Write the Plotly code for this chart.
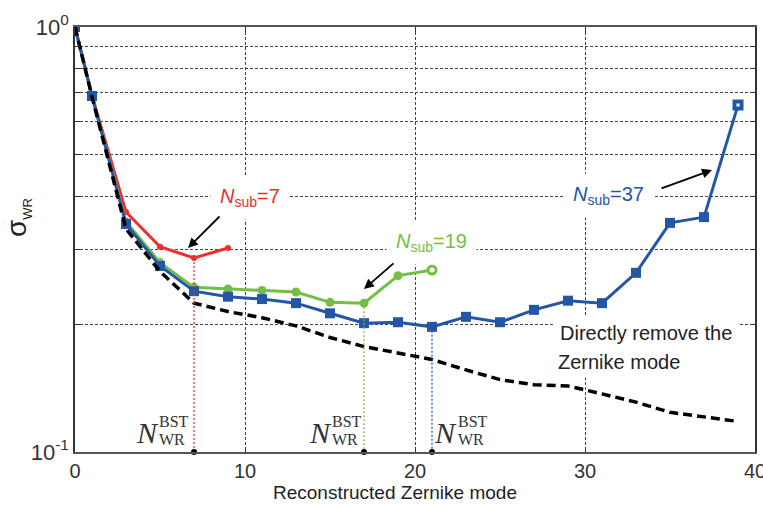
import plotly.graph_objects as go
import numpy as np

# ---------------- data ----------------
x_blue = [0, 1, 3, 5, 7, 9, 11, 13, 15, 17, 19, 21, 23, 25, 27, 29, 31, 33, 35, 37, 39]
y_blue = [1.0, 0.688, 0.344, 0.274, 0.239, 0.232, 0.229, 0.224, 0.212, 0.201, 0.202,
          0.197, 0.208, 0.202, 0.216, 0.227, 0.224, 0.264, 0.346, 0.357, 0.655]

x_green = [0, 1, 3, 5, 7, 9, 11, 13, 15, 17, 19, 21]
y_green = [1.0, 0.69, 0.348, 0.279, 0.244, 0.242, 0.240, 0.238, 0.225, 0.224, 0.260, 0.268]

x_red = [0, 1, 3, 5, 7, 9]
y_red = [1.0, 0.69, 0.367, 0.304, 0.286, 0.302]

x_direct = [0, 1, 3, 5, 7, 9, 11, 13, 15, 17, 19, 21, 23, 25, 27, 29, 31, 33, 35, 37, 39]
y_direct = [1.0, 0.685, 0.335, 0.266, 0.224, 0.214, 0.207, 0.198, 0.186, 0.177, 0.171,
            0.165, 0.156, 0.148, 0.144, 0.143, 0.137, 0.131, 0.124, 0.121, 0.118]

x_ticks = [0, 10, 20, 30, 40]
y_grid = [0.1, 0.2, 0.3, 0.4, 0.5, 0.6, 0.7, 0.8, 0.9, 1.0]
y_ticktext = ["10<sup>-1</sup>", "", "", "", "", "", "", "", "", "10<sup>0</sup>"]

sub_labels = ["7", "19", "37"]

# ---------------- styles ----------------
RED = "#ee2d2d"
GREEN = "#72bf44"
BLUE = "#2456a6"
FONT = "Liberation Sans"
SERIF = "Liberation Serif"

fig = go.Figure()

fig.add_trace(go.Scatter(x=x_red, y=y_red, mode="lines+markers",
                         line=dict(color=RED, width=3),
                         marker=dict(symbol="circle", size=6, color=RED)))
fig.add_trace(go.Scatter(x=x_green[:-1], y=y_green[:-1], mode="lines+markers",
                         line=dict(color=GREEN, width=3),
                         marker=dict(symbol="circle", size=9, color=GREEN)))
fig.add_trace(go.Scatter(x=x_green[-2:], y=y_green[-2:], mode="lines",
                         line=dict(color=GREEN, width=3)))
fig.add_trace(go.Scatter(x=x_green[-1:], y=y_green[-1:], mode="markers",
                         marker=dict(symbol="circle", size=8, color="white",
                                     line=dict(color=GREEN, width=3))))
fig.add_trace(go.Scatter(x=x_blue[:-1], y=y_blue[:-1], mode="lines+markers",
                         line=dict(color=BLUE, width=3),
                         marker=dict(symbol="square", size=10, color=BLUE)))
fig.add_trace(go.Scatter(x=x_blue[-2:], y=y_blue[-2:], mode="lines",
                         line=dict(color=BLUE, width=3)))
fig.add_trace(go.Scatter(x=x_blue[-1:], y=y_blue[-1:], mode="markers",
                         marker=dict(symbol="square", size=7, color="white",
                                     line=dict(color=BLUE, width=4))))
fig.add_trace(go.Scatter(x=x_direct, y=y_direct, mode="lines",
                         line=dict(color="black", width=3.5, dash="9px,5px")))

# drop lines at the best (minimum) mode of each series
for xs, ys, col in [(x_red, y_red, RED), (x_green, y_green, GREEN), (x_blue, y_blue, BLUE)]:
    i = int(np.argmin(ys))
    fig.add_trace(go.Scatter(x=[xs[i], xs[i]], y=[ys[i], y_grid[0]], mode="lines",
                             line=dict(color=col, width=1.3, dash="2px,2px")))
    fig.add_trace(go.Scatter(x=[xs[i]], y=[y_grid[0]], mode="markers", cliponaxis=False,
                             marker=dict(symbol="circle", size=6, color="black")))

# ---------------- layout helpers (screen pixel -> paper) ----------------
L, R, T, B = 75, 755, 27, 452
W, H = 763, 505


def P(px, py):
    return dict(x=(px - L) / (R - L), y=(B - py) / (B - T), xref="paper", yref="paper")


ann = []
# N_sub labels
for (px, py), col, lab in [((250, 197), RED, sub_labels[0]),
                           ((431, 242), GREEN, sub_labels[1]),
                           ((608, 195), BLUE, sub_labels[2])]:
    ann.append(dict(**P(px, py), text="<i>N</i><sub>sub</sub>=" + lab, showarrow=False,
                    font=dict(family=FONT, size=20, color=col), bgcolor="white",
                    borderpad=9, xanchor="center", yanchor="middle"))
# arrows
for (hx, hy), (ax, ay) in [((188, 248), (33, -33)), ((364, 289), (31, -27)), ((712, 170), (-52, 19))]:
    ann.append(dict(**P(hx, hy), text="", showarrow=True, ax=ax, ay=ay,
                    arrowhead=2, arrowsize=1.1, arrowwidth=1.8, arrowcolor="black"))
# direct-removal text
ann.append(dict(**P(553, 333), text="Directly remove the", showarrow=False, xanchor="left",
                yanchor="middle", font=dict(family=FONT, size=20, color="#222"),
                bgcolor="white", borderpad=6))
ann.append(dict(**P(553, 362), text="Zernike mode", showarrow=False, xanchor="left",
                yanchor="middle", font=dict(family=FONT, size=20, color="#222"),
                bgcolor="white", borderpad=4))
# N_WR^BST labels
for nx in [147, 320, 446]:
    ann.append(dict(**P(nx, 432), text="<i>N</i>", showarrow=False, xanchor="center",
                    yanchor="middle", font=dict(family=SERIF, size=30, color="#333")))
    ann.append(dict(**P(nx + 10, 421), text="BST", showarrow=False, xanchor="left",
                    yanchor="middle", font=dict(family=SERIF, size=16, color="#333")))
    ann.append(dict(**P(nx + 10, 439), text="WR", showarrow=False, xanchor="left",
                    yanchor="middle", font=dict(family=SERIF, size=16, color="#333")))
# axis titles
ann.append(dict(**P(395, 492), text="Reconstructed Zernike mode", showarrow=False,
                xanchor="center", yanchor="middle", font=dict(family=FONT, size=19, color="#222")))
ann.append(dict(**P(18, 218), text="σ<sub><span style='font-size:13px'>WR</span></sub>",
                showarrow=False, textangle=-90, xanchor="center", yanchor="middle",
                font=dict(family=FONT, size=28, color="#222")))

fig.update_layout(
    width=W, height=H,
    margin=dict(l=L, r=W - R, t=T, b=H - B),
    paper_bgcolor="white", plot_bgcolor="white",
    showlegend=False,
    annotations=ann,
    font=dict(family=FONT, color="#333"),
)
fig.update_xaxes(range=[0, 40], tickvals=x_ticks, ticktext=[str(v) for v in x_ticks],
                 automargin=False, ticklabeloverflow="allow",
                 showgrid=True, gridcolor="#444", griddash="3px,2px", gridwidth=1,
                 zeroline=False, showline=True, linecolor="#555", linewidth=1.5,
                 mirror="ticks", ticks="inside", ticklen=5, tickcolor="#333",
                 tickfont=dict(family=FONT, size=20, color="#333"))
fig.update_yaxes(type="log", range=[-1, 0], tickvals=y_grid, ticktext=y_ticktext,
                 automargin=False, ticklabeloverflow="allow",
                 showgrid=True, gridcolor="#444", griddash="3px,2px", gridwidth=1,
                 zeroline=False, showline=True, linecolor="#333", linewidth=1.5,
                 mirror="ticks", ticks="inside", ticklen=5, tickcolor="#333",
                 tickfont=dict(family=FONT, size=22, color="#333"))

fig.write_html("out.html", config={"displayModeBar": False},
               post_script="document.body.style.margin='0';document.body.style.overflow='hidden';")
